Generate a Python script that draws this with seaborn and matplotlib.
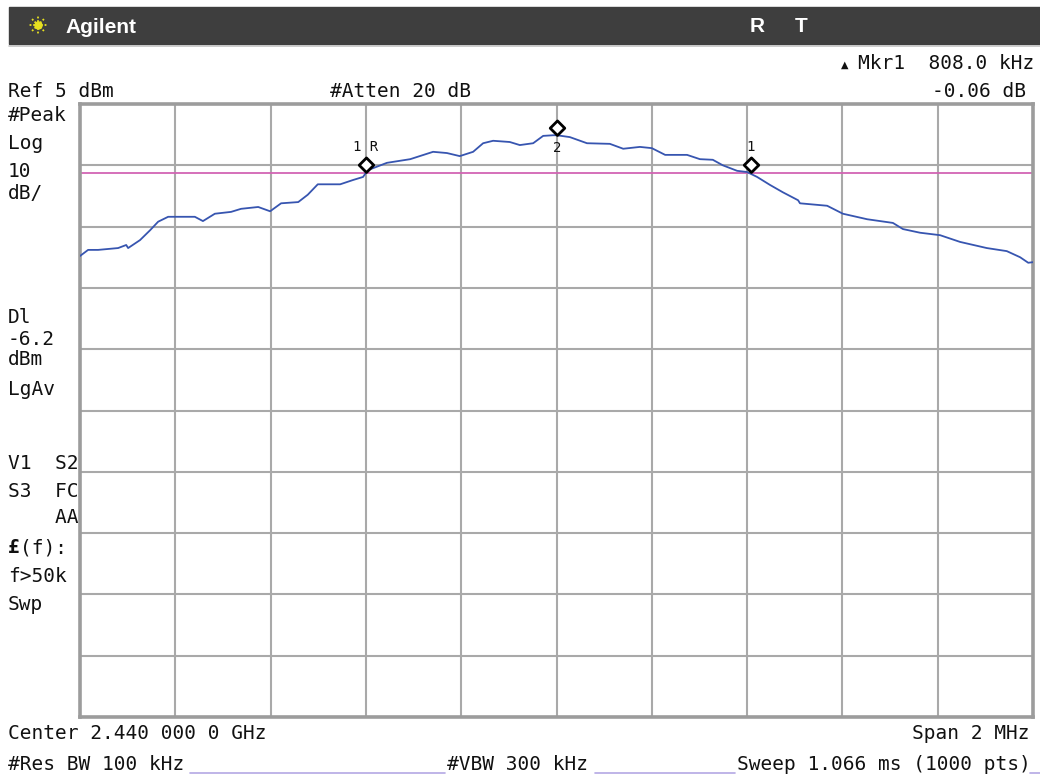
import numpy as np
import pandas as pd
import matplotlib
matplotlib.use("Agg")
import matplotlib.pyplot as plt
import seaborn as sns
from matplotlib.path import Path
from matplotlib.lines import Line2D
from matplotlib.patches import Rectangle

# --- analyzer settings ---
ref_level = 5          # dBm, top of the graticule
db_per_div = 10
span_khz = 2000
display_line = -6.2    # dBm

# --- trace: offset from 2.440 GHz centre (kHz) and level (dBm) ---
offset_khz = [-1000, -983, -962, -920, -903, -899, -874, -853, -836, -815,
              -799, -759, -742, -717, -683, -662, -626, -601, -578, -542,
              -522, -501, -480, -454, -427, -406, -396, -356, -307, -259,
              -230, -203, -175, -154, -133, -98, -77, -49, -28, -7,
              1, 28, 64, 112, 140, 175, 200, 228, 274, 301,
              328, 349, 379, 400, 421, 448, 475, 507, 511, 568,
              601, 652, 706, 727, 763, 805, 847, 903, 945, 973,
              990, 1000]
level_dbm = [-19.8, -18.8, -18.8, -18.5, -18.0, -18.5, -17.2, -15.6, -14.2, -13.4,
             -13.4, -13.4, -14.1, -12.9, -12.6, -12.1, -11.8, -12.5, -11.2, -11.0,
             -9.8, -8.1, -8.1, -8.1, -7.4, -6.9, -5.8, -4.6, -4.0, -2.8,
             -3.0, -3.5, -2.8, -1.4, -1.0, -1.2, -1.7, -1.4, -0.2, -0.1,
             -0.1, -0.4, -1.4, -1.5, -2.3, -2.0, -2.2, -3.3, -3.3, -4.0,
             -4.1, -5.0, -5.9, -6.1, -6.9, -8.2, -9.4, -10.7, -11.2, -11.6,
             -12.9, -13.8, -14.4, -15.4, -16.0, -16.4, -17.5, -18.5, -19.0, -20.0,
             -20.9, -20.8]

# --- markers ---
marker_khz = [-400, 1, 408]
marker_dbm = [-6.1, -0.1, -6.16]
marker_names = ["1 R", "2", "1"]

TRACE = "#3755b0"
PINK = "#d264b4"
GRID = "#a9a9a9"
FRAME = "#9c9c9c"

sns.set_theme(style="white")
plt.rcParams["font.family"] = ["DejaVu Sans Mono", "DejaVu Sans"]

W, H = 1040, 775
fig = plt.figure(figsize=(W / 100, H / 100), dpi=100)
fig.patch.set_facecolor("white")


def fx(x):
    return x / W


def fy(y):
    return 1 - y / H


def ftext(x, y, s, **kw):
    kw.setdefault("fontsize", 14)
    kw.setdefault("color", "#111111")
    kw.setdefault("va", "baseline")
    fig.text(fx(x), fy(y), s, **kw)


ax = fig.add_axes([fx(80), fy(717), (1033 - 80) / W, (717 - 104) / H])

trace = pd.DataFrame({"offset_khz": offset_khz, "level_dbm": level_dbm})
sns.lineplot(data=trace, x="offset_khz", y="level_dbm", ax=ax, color=TRACE,
             lw=1.3, sort=False, estimator=None, zorder=3)
ax.axhline(display_line, color=PINK, lw=1.3, zorder=2)

# marker diamonds with the bottom tip on the trace point
tip_diamond = Path([(0, 0), (1, 1), (0, 2), (-1, 1), (0, 0)],
                   [Path.MOVETO, Path.LINETO, Path.LINETO, Path.LINETO, Path.CLOSEPOLY])
ax.plot(marker_khz, marker_dbm, ls="none", marker=tip_diamond, ms=21,
        mfc="white", mec="black", mew=2.0, zorder=5)
label_offsets = [(0, 18), (0, -9), (0, 18)]
for fk, lv, name, off in zip(marker_khz, marker_dbm, marker_names, label_offsets):
    ax.annotate(name, (fk, lv), xytext=off, textcoords="offset points",
                ha="center", va="center", fontsize=10, color="#111111", zorder=6)

half = span_khz / 2
ax.set_xlim(-half, half)
ax.set_ylim(ref_level - 10 * db_per_div, ref_level)
ax.set_xticks(np.linspace(-half, half, 11))
ax.set_yticks(np.linspace(ref_level - 10 * db_per_div, ref_level, 11))
ax.grid(True, color=GRID, lw=1.5)
ax.set_axisbelow(True)
ax.tick_params(length=0, labelbottom=False, labelleft=False)
ax.set_xlabel("")
ax.set_ylabel("")
for s in ax.spines.values():
    s.set_visible(True)
    s.set_color(FRAME)
    s.set_linewidth(2.6)

# --- header bar ---
fig.patches.append(Rectangle((fx(9), fy(44)), fx(W - 9), 37 / H,
                             transform=fig.transFigure, color="#3e3e3e", zorder=0))
fig.lines.append(Line2D([fx(9), fx(W)], [fy(45.5), fy(45.5)],
                        transform=fig.transFigure, color="#c4c4c4", lw=1.2))
cx, cy = 38, 25
for ang in np.arange(0, 360, 45):
    r = np.deg2rad(ang)
    fig.lines.append(Line2D([fx(cx + 3 * np.cos(r)), fx(cx + 10 * np.cos(r))],
                            [fy(cy - 3 * np.sin(r)), fy(cy - 10 * np.sin(r))],
                            transform=fig.transFigure, color="#e6e020",
                            lw=1.3, ls=(0, (1, 1))))
fig.lines.append(Line2D([fx(cx)], [fy(cy)], transform=fig.transFigure, marker="o",
                        ms=5, color="#e6e020"))
ftext(65, 33, "Agilent", family="Liberation Sans", weight="bold", fontsize=15,
      color="white")
ftext(750, 32, "R", family="Liberation Sans", weight="bold", fontsize=15, color="white")
ftext(795, 32, "T", family="Liberation Sans", weight="bold", fontsize=15, color="white")

# --- top annotation lines ---
ftext(841, 68, "▲", family="DejaVu Sans", fontsize=7)
ftext(1034, 69, "Mkr1  808.0 kHz", ha="right")
ftext(8, 97, "Ref 5 dBm")
ftext(330, 97, "#Atten 20 dB")
ftext(1026, 97, "-0.06 dB", ha="right")

# --- left column ---
left_lines = [(121, "#Peak"), (149, "Log"), (177, "10"), (199, "dB/"),
              (323, "Dl"), (345, "-6.2"), (365, "dBm"), (395, "LgAv"),
              (469, "V1  S2"), (497, "S3  FC"), (523, "    AA"),
              (582, "f>50k"), (610, "Swp")]
for y, s in left_lines:
    ftext(8, y, s)
ftext(8, 553, "£", weight="bold")
ftext(20, 553, "(f):")

# --- bottom annotation lines ---
ftext(8, 739, "Center 2.440 000 0 GHz")
ftext(1029, 739, "Span 2 MHz", ha="right")
ftext(8, 770, "#Res BW 100 kHz")
ftext(447, 770, "#VBW 300 kHz")
ftext(737, 770, "Sweep 1.066 ms (1000 pts)")
for x0, x1 in [(190, 445), (595, 735), (1030, 1040)]:
    fig.lines.append(Line2D([fx(x0), fx(x1)], [fy(773), fy(773)],
                            transform=fig.transFigure, color="#b4a8e4", lw=1.2))

fig.savefig("out.png", dpi=100)
